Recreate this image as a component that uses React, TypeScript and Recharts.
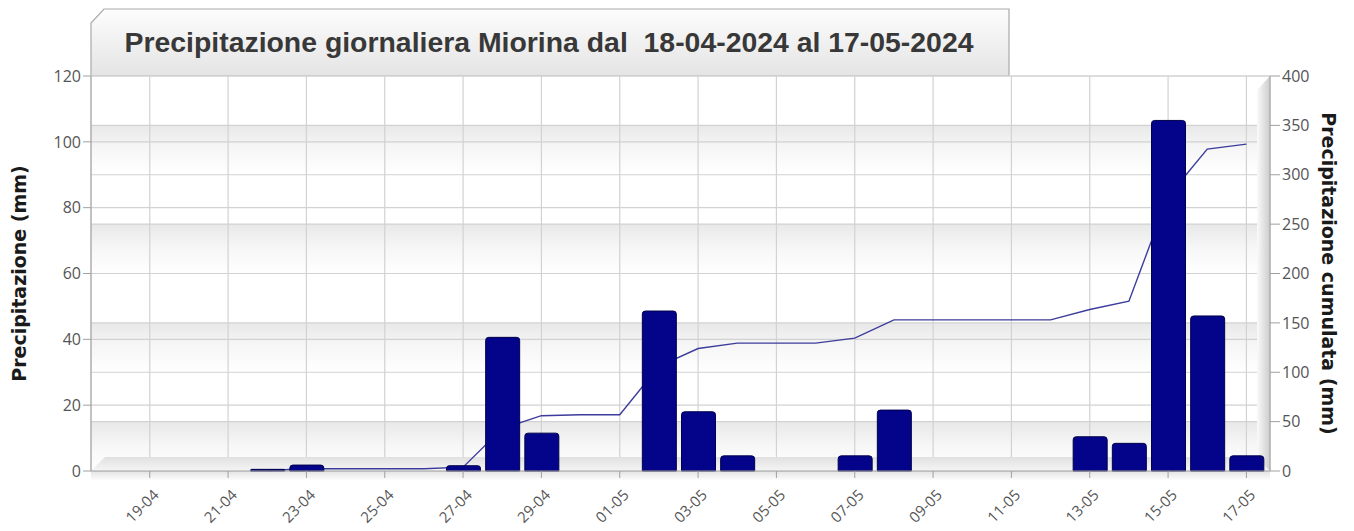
import { ComposedChart, Bar, Line, XAxis, YAxis, CartesianGrid, Customized } from 'recharts'

const days = [
  '18-04', '19-04', '20-04', '21-04', '22-04', '23-04', '24-04', '25-04', '26-04', '27-04',
  '28-04', '29-04', '30-04', '01-05', '02-05', '03-05', '04-05', '05-05', '06-05', '07-05',
  '08-05', '09-05', '10-05', '11-05', '12-05', '13-05', '14-05', '15-05', '16-05', '17-05',
]
// daily rain, mm (left axis)
const rain = [
  0, 0, 0, 0, 0.5, 1.8, 0, 0, 0, 1.6,
  40.6, 11.5, 0, 0, 48.6, 18.0, 4.6, 0, 0, 4.6,
  18.5, 0, 0, 0, 0, 10.4, 8.4, 106.5, 47.1, 4.6,
]
// running total, mm (right axis)
const cumulated = [
  null, null, null, null, 0.5, 2.3, 2.3, 2.3, 2.3, 3.9,
  43, 56, 57, 57, 106, 124, 129.5, 129.5, 129.5, 134.5,
  153, 153, 153, 153, 153, 163.5, 172, 278, 326, 331,
]
const tickDays = [
  '19-04', '21-04', '23-04', '25-04', '27-04', '29-04', '01-05', '03-05',
  '05-05', '07-05', '09-05', '11-05', '13-05', '15-05', '17-05',
]
const leftTicks = [0, 20, 40, 60, 80, 100, 120]
const rightTicks = [0, 50, 100, 150, 200, 250, 300, 350, 400]
const title = 'Precipitazione giornaliera Miorina dal  18-04-2024 al 17-05-2024'

const W = 1354
const H = 531
// plot box, follows from the margins and axis widths below
const PLOT = { left: 91, top: 76, right: 1270, bottom: 471 }

const tickFont = { fill: '#555', fontSize: 16, fontFamily: 'Open Sans' }
const labelFont = { textAnchor: 'middle', fontWeight: 700, fontSize: 19, fill: '#1a1a1a', fontFamily: 'DejaVu Sans' }

const data = days.map((day, i) => ({ day, rain: rain[i], cum: cumulated[i] }))

function DayTick({ x, y, payload }: any) {
  return (
    <text
      transform={`translate(${x + 10},${y + 16}) rotate(-45)`}
      textAnchor="end"
      {...tickFont}
      fontSize={15}
    >
      {payload.value}
    </text>
  )
}

function Decor() {
  const { left, right, top, bottom } = PLOT
  return (
    <g>
      <polygon
        points={`${left},${bottom} ${left + 14},${bottom - 14} ${right - 13},${bottom - 14} ${right},${bottom}`}
        fill="url(#floorGrad)"
      />
      <polygon
        points={`${right - 13},${top + 14} ${right},${top} ${right},${bottom} ${right - 13},${bottom - 14}`}
        fill="url(#wallGrad)"
      />
      <rect x={left} y={bottom + 1} width={right - left} height={9} fill="url(#shadowGrad)" />
    </g>
  )
}

export default function App() {
  return (
    <div style={{ position: 'absolute', left: 0, top: 0, width: W, height: H, background: '#fff' }}>
      <svg width={W} height={H} style={{ position: 'absolute', left: 0, top: 0 }}>
        <defs>
          <linearGradient id="band" x1="0" y1="0" x2="0" y2="1">
            <stop offset="0" stopColor="#e8e8e8" />
            <stop offset="0.45" stopColor="#f6f6f6" />
            <stop offset="1" stopColor="#ffffff" />
          </linearGradient>
          <linearGradient id="floorGrad" x1="0" y1="0" x2="0" y2="1">
            <stop offset="0" stopColor="#e0e0e0" />
            <stop offset="1" stopColor="#f5f5f5" />
          </linearGradient>
          <linearGradient id="wallGrad" x1="0" y1="0" x2="1" y2="0">
            <stop offset="0" stopColor="#fafafa" />
            <stop offset="1" stopColor="#cccccc" />
          </linearGradient>
          <linearGradient id="shadowGrad" x1="0" y1="0" x2="0" y2="1">
            <stop offset="0" stopColor="#e6e6e6" />
            <stop offset="1" stopColor="#ffffff" />
          </linearGradient>
          <linearGradient id="tabGrad" x1="0" y1="0" x2="0" y2="1">
            <stop offset="0" stopColor="#fdfdfd" />
            <stop offset="1" stopColor="#e4e4e4" />
          </linearGradient>
        </defs>
        <polygon points="91,76 91,23 104,9 1009,9 1009,76" fill="url(#tabGrad)" stroke="#aaa" strokeWidth={1.2} />
        <text
          x={549}
          y={52}
          textAnchor="middle"
          fontFamily="Liberation Sans"
          fontWeight={700}
          fontSize={28.4}
          fill="#383838"
          style={{ whiteSpace: 'pre' }}
        >
          {title}
        </text>
      </svg>
      <div style={{ position: 'absolute', left: 0, top: 0 }}>
        <ComposedChart width={W} height={H} data={data} margin={{ top: 76, right: 0, bottom: 0, left: 0 }}>
          <CartesianGrid
            yAxisId="right"
            stroke="#d2d2d2"
            strokeWidth={1.2}
            horizontalFill={['#ffffff', 'url(#band)']}
          />
          <CartesianGrid yAxisId="left" vertical={false} stroke="#d2d2d2" strokeWidth={1.2} />
          <Customized component={<Decor />} />
          <XAxis
            dataKey="day"
            ticks={tickDays}
            interval={0}
            height={60}
            padding={{ left: 0, right: 4 }}
            tickSize={7}
            stroke="#a0a0a0"
            tick={<DayTick />}
          />
          <YAxis
            yAxisId="left"
            width={91}
            domain={[0, 120]}
            ticks={leftTicks}
            tickSize={8}
            stroke="#a0a0a0"
            tick={tickFont}
            label={{ value: 'Precipitazione (mm)', angle: -90, position: 'insideLeft', offset: 19, style: labelFont }}
          />
          <YAxis
            yAxisId="right"
            orientation="right"
            width={84}
            domain={[0, 400]}
            ticks={rightTicks}
            tickSize={10}
            stroke="#a0a0a0"
            tick={tickFont}
            label={{ value: 'Precipitazione cumulata (mm)', angle: 90, position: 'insideRight', offset: 25, style: labelFont }}
          />
          <Line
            yAxisId="right"
            dataKey="cum"
            stroke="#3c3c9c"
            strokeWidth={1.4}
            dot={false}
            activeDot={false}
            isAnimationActive={false}
            zIndex={250}
          />
          <Bar
            yAxisId="left"
            dataKey="rain"
            barSize={34}
            fill="#04048a"
            stroke="#00004c"
            strokeWidth={1}
            radius={[3, 3, 0, 0]}
            isAnimationActive={false}
          />
        </ComposedChart>
      </div>
    </div>
  )
}
